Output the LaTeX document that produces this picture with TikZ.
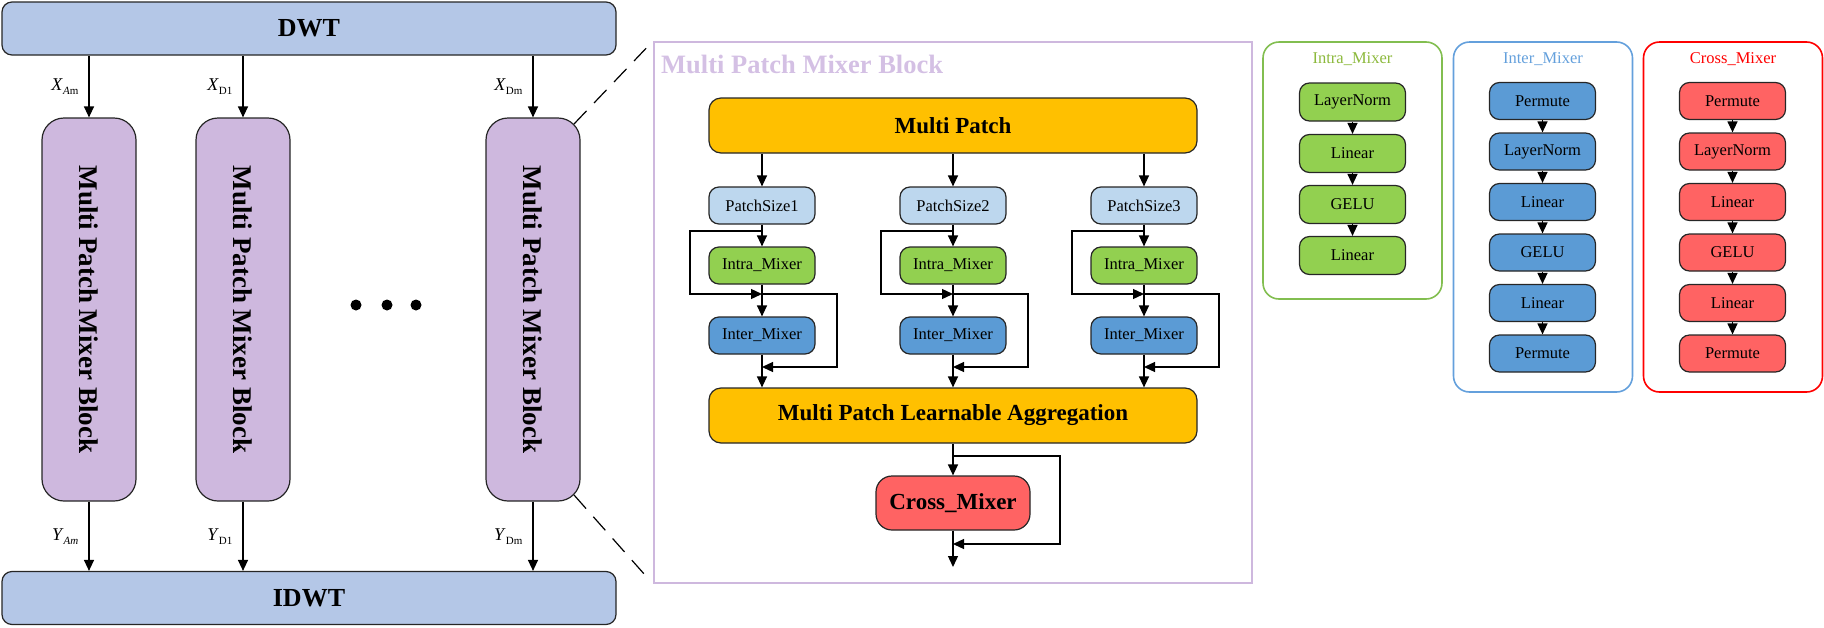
\documentclass[tikz,border=0pt]{standalone}
\usepackage{fontspec}
\setmainfont{Liberation Serif}
\usetikzlibrary{arrows.meta}

\definecolor{dwtblue}{RGB}{180,199,231}
\definecolor{mixpurple}{RGB}{206,184,222}
\definecolor{titlepurple}{RGB}{212,192,228}
\definecolor{patchorange}{RGB}{255,192,0}
\definecolor{sizeblue}{RGB}{189,215,238}
\definecolor{intragreen}{RGB}{146,208,80}
\definecolor{interblue}{RGB}{91,155,213}
\definecolor{crossred}{RGB}{255,99,99}
\definecolor{intraline}{RGB}{130,190,80}
\definecolor{intratext}{RGB}{140,185,60}
\definecolor{interline}{RGB}{100,160,220}
\definecolor{crossline}{RGB}{255,0,0}

\begin{document}
\begin{tikzpicture}[x=1pt, y=-1pt,
	arr/.style={line width=1.3pt, -{Triangle[length=11pt, width=10pt]}},
	blk/.style={draw=black!85, line width=1.2pt, rounded corners=10pt, inner sep=0pt, align=center},
	wave/.style={blk, fill=dwtblue, minimum width=614pt, minimum height=53pt, font=\fontsize{26}{30}\selectfont\bfseries},
	mixer/.style={blk, fill=mixpurple, rounded corners=22pt, minimum width=94pt, minimum height=383pt},
	wide/.style={blk, fill=patchorange, rounded corners=12pt, minimum width=488pt, minimum height=55pt, font=\fontsize{23}{27}\selectfont\bfseries},
	smallbox/.style={blk, minimum width=106pt, minimum height=37pt, font=\fontsize{16.5}{19}\selectfont},
	panel/.style={rounded corners=16pt, line width=1.6pt, minimum width=179pt, inner sep=0pt},
	sig/.style={font=\fontsize{18}{20}\selectfont, inner sep=2pt}]

	\useasboundingbox (0,0) rectangle (1824,627);

		% wavelet branches
		\node[wave] (dwt) at (309,28.5) {DWT};
		\node[wave] (idwt) at (309,598) {IDWT};
		\node[mixer, label={[rotate=-90, font=\fontsize{27}{30}\selectfont\bfseries]center:Multi Patch Mixer Block}] (m1) at (89,309.5) {};
		\node[mixer, label={[rotate=-90, font=\fontsize{27}{30}\selectfont\bfseries]center:Multi Patch Mixer Block}] (m2) at (243,309.5) {};
		\node[mixer, label={[rotate=-90, font=\fontsize{27}{30}\selectfont\bfseries]center:Multi Patch Mixer Block}] (m3) at (533,309.5) {};

		\draw[arr] (dwt.south -| m1) -- (m1.north) node[sig, midway, left=8pt] {\textit{X}\raisebox{-4pt}{\fontsize{11}{12}\selectfont\textit{A}m}};
		\draw[arr] (dwt.south -| m2) -- (m2.north) node[sig, midway, left=8pt] {\textit{X}\raisebox{-4pt}{\fontsize{11}{12}\selectfont D1}};
		\draw[arr] (dwt.south -| m3) -- (m3.north) node[sig, midway, left=8pt] {\textit{X}\raisebox{-4pt}{\fontsize{11}{12}\selectfont Dm}};
		\draw[arr] (m1.south) -- (m1 |- idwt.north) node[sig, midway, left=8pt] {\textit{Y}\raisebox{-4pt}{\fontsize{11}{12}\selectfont\textit{Am}}};
		\draw[arr] (m2.south) -- (m2 |- idwt.north) node[sig, midway, left=8pt] {\textit{Y}\raisebox{-4pt}{\fontsize{11}{12}\selectfont D1}};
		\draw[arr] (m3.south) -- (m3 |- idwt.north) node[sig, midway, left=8pt] {\textit{Y}\raisebox{-4pt}{\fontsize{11}{12}\selectfont Dm}};

		\fill (356,305) circle [radius=5.5pt];
		\fill (387,305) circle [radius=5.5pt];
		\fill (416,305) circle [radius=5.5pt];

		% zoomed block
		\node[draw=mixpurple, line width=2pt, minimum width=598pt, minimum height=541pt, inner sep=0pt] (mpb) at (953,312.5) {};
		\node[anchor=west, inner sep=0pt, text=titlepurple, font=\fontsize{26.5}{30}\selectfont\bfseries] (mpbtitle) at (661,64) {Multi Patch Mixer Block};

		\draw[line width=1.2pt, dash pattern=on 18pt off 11pt, shorten >=10pt] ([shift={(-6.5,6.5)}]m3.north east) -- (mpb.north west);
		\draw[line width=1.2pt, dash pattern=on 18pt off 11pt, shorten >=10pt] ([shift={(-6.5,-6.5)}]m3.south east) -- (mpb.south west);

		\node[wide] (mp) at (953,125.5) {Multi Patch};
		\node[smallbox, fill=sizeblue] (ps1) at (762,205.5) {PatchSize1};
		\node[smallbox, fill=sizeblue] (ps2) at (953,205.5) {PatchSize2};
		\node[smallbox, fill=sizeblue] (ps3) at (1144,205.5) {PatchSize3};
		\node[smallbox, fill=intragreen] (ia1) at (762,265.5) {Intra\_Mixer};
		\node[smallbox, fill=intragreen] (ia2) at (953,265.5) {Intra\_Mixer};
		\node[smallbox, fill=intragreen] (ia3) at (1144,265.5) {Intra\_Mixer};
		\node[smallbox, fill=interblue] (ie1) at (762,335.5) {Inter\_Mixer};
		\node[smallbox, fill=interblue] (ie2) at (953,335.5) {Inter\_Mixer};
		\node[smallbox, fill=interblue] (ie3) at (1144,335.5) {Inter\_Mixer};
		\node[wide] (mpla) at (953,415.5) {Multi Patch Learnable Aggregation};
		\node[blk, fill=crossred, rounded corners=16pt, minimum width=154pt, minimum height=54pt, font=\fontsize{23}{27}\selectfont\bfseries] (cm) at (953,503) {Cross\_Mixer};

		\coordinate (s1) at (762,231);
		\coordinate (s2) at (953,231);
		\coordinate (s3) at (1144,231);
		\coordinate (j1) at (762,294);
		\coordinate (j2) at (953,294);
		\coordinate (j3) at (1144,294);
		\coordinate (k1) at (762,367);
		\coordinate (k2) at (953,367);
		\coordinate (k3) at (1144,367);
		\coordinate (cs) at (953,456);
		\coordinate (ck) at (953,544);
		\coordinate (out) at (953,567);

		\draw[arr] (mp.south -| ps1) -- (ps1);
		\draw[arr] (mp.south -| ps2) -- (ps2);
		\draw[arr] (mp.south -| ps3) -- (ps3);
		\draw[arr] (ps1) -- (ia1);
		\draw[arr] (ps2) -- (ia2);
		\draw[arr] (ps3) -- (ia3);
		\draw[arr] (s1) -- ++(-72,0) |- (j1);
		\draw[arr] (s2) -- ++(-72,0) |- (j2);
		\draw[arr] (s3) -- ++(-72,0) |- (j3);
		\draw[arr] (ia1) -- (ie1);
		\draw[arr] (ia2) -- (ie2);
		\draw[arr] (ia3) -- (ie3);
		\draw[arr] (j1) -- ++(75,0) |- (k1);
		\draw[arr] (j2) -- ++(75,0) |- (k2);
		\draw[arr] (j3) -- ++(75,0) |- (k3);
		\draw[arr] (ie1) -- (ie1 |- mpla.north);
		\draw[arr] (ie2) -- (ie2 |- mpla.north);
		\draw[arr] (ie3) -- (ie3 |- mpla.north);
		\draw[arr] (mpla) -- (cm);
		\draw[arr] (cs) -- ++(107,0) |- (ck);
		\draw[arr] (cm) -- (out);

		% mixer details
		\node[panel, draw=intraline, minimum height=257pt] (intrap) at (1352.5,170.5) {};
		\node[text=intratext, font=\fontsize{16.5}{19}\selectfont] (intrat) at (1352.5,59) {Intra\_Mixer};
		\node[smallbox, fill=intragreen, minimum height=38pt] (a1) at (1352.5,102) {LayerNorm};
		\node[smallbox, fill=intragreen, minimum height=38pt] (a2) at (1352.5,153.5) {Linear};
		\node[smallbox, fill=intragreen, minimum height=38pt] (a3) at (1352.5,204.5) {GELU};
		\node[smallbox, fill=intragreen, minimum height=38pt] (a4) at (1352.5,255.5) {Linear};
		\draw[arr] (a1) -- (a2);
		\draw[arr] (a2) -- (a3);
		\draw[arr] (a3) -- (a4);

		\node[panel, draw=interline, minimum height=350pt] (interp) at (1543,217) {};
		\node[text=interline, font=\fontsize{16.5}{19}\selectfont] (intert) at (1543,59) {Inter\_Mixer};
		\node[smallbox, fill=interblue] (b1) at (1542.5,101) {Permute};
		\node[smallbox, fill=interblue] (b2) at (1542.5,151.5) {LayerNorm};
		\node[smallbox, fill=interblue] (b3) at (1542.5,202) {Linear};
		\node[smallbox, fill=interblue] (b4) at (1542.5,252.5) {GELU};
		\node[smallbox, fill=interblue] (b5) at (1542.5,303) {Linear};
		\node[smallbox, fill=interblue] (b6) at (1542.5,353.5) {Permute};
		\draw[arr] (b1) -- (b2);
		\draw[arr] (b2) -- (b3);
		\draw[arr] (b3) -- (b4);
		\draw[arr] (b4) -- (b5);
		\draw[arr] (b5) -- (b6);

		\node[panel, draw=crossline, minimum height=350pt] (crossp) at (1733,217) {};
		\node[text=crossline, font=\fontsize{16.5}{19}\selectfont] (crosst) at (1733,59) {Cross\_Mixer};
		\node[smallbox, fill=crossred] (c1) at (1732.5,101) {Permute};
		\node[smallbox, fill=crossred] (c2) at (1732.5,151.5) {LayerNorm};
		\node[smallbox, fill=crossred] (c3) at (1732.5,202) {Linear};
		\node[smallbox, fill=crossred] (c4) at (1732.5,252.5) {GELU};
		\node[smallbox, fill=crossred] (c5) at (1732.5,303) {Linear};
		\node[smallbox, fill=crossred] (c6) at (1732.5,353.5) {Permute};
		\draw[arr] (c1) -- (c2);
		\draw[arr] (c2) -- (c3);
		\draw[arr] (c3) -- (c4);
		\draw[arr] (c4) -- (c5);
		\draw[arr] (c5) -- (c6);

	\end{tikzpicture}
\end{document}
